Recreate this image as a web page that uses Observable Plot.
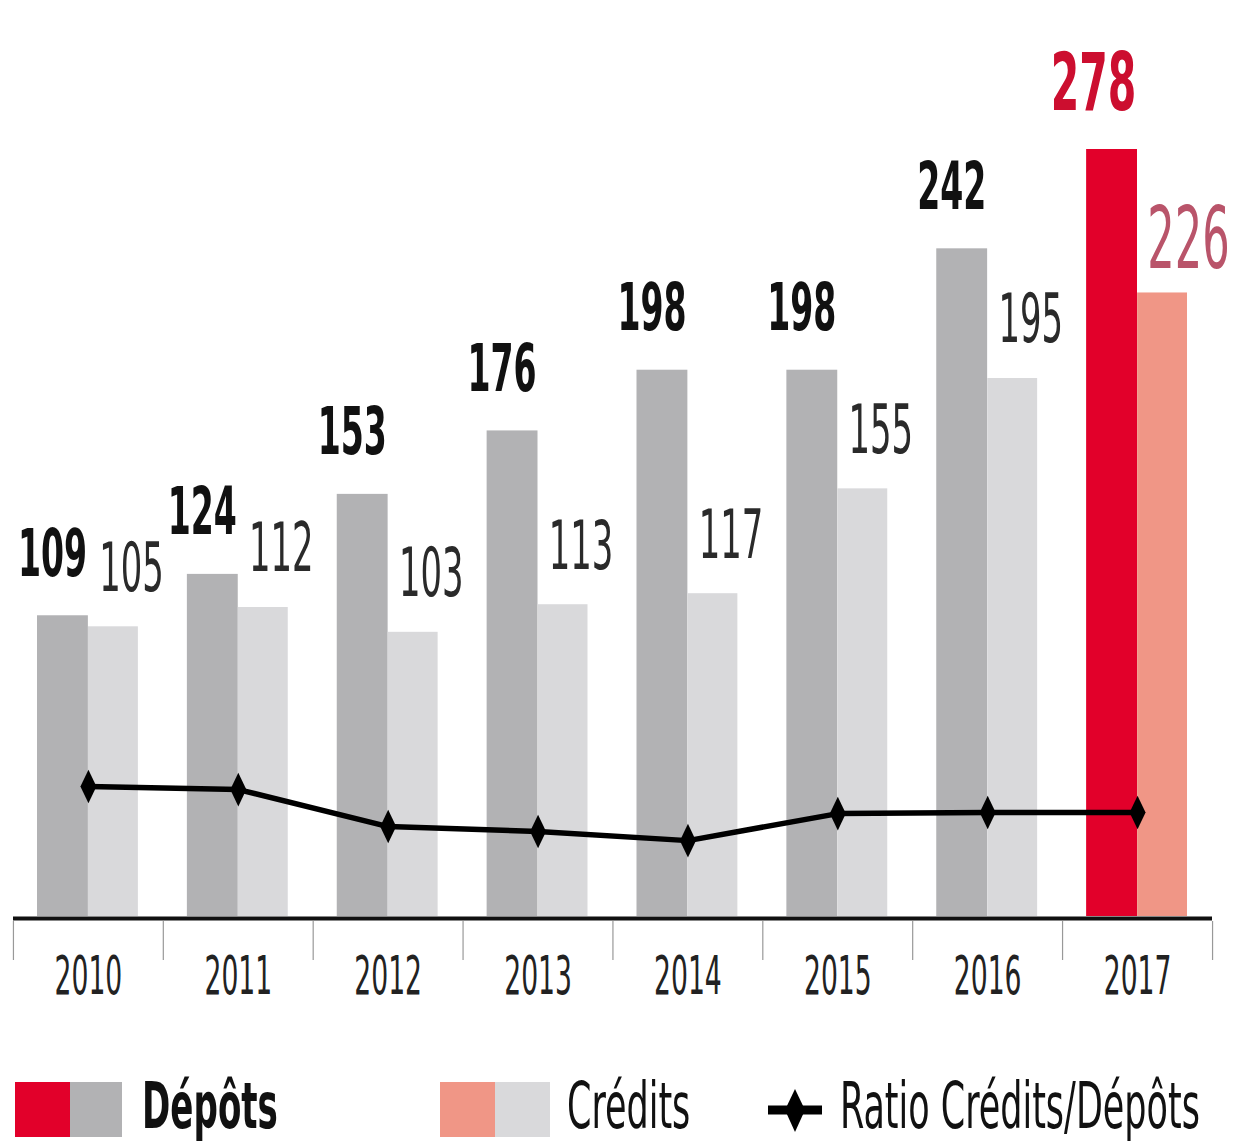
<!DOCTYPE html>
<html>
<head>
<meta charset="utf-8">
<script src="https://cdn.jsdelivr.net/npm/d3@7"></script>
<script src="https://cdn.jsdelivr.net/npm/@observablehq/plot@0.6"></script>
<style>
  body { margin: 0; background: #fff; }
  #wrap { position: relative; width: 1239px; height: 1144px; overflow: hidden; background: #fff; }
  #chart { position: absolute; left: 0; top: 0; }
  #legend { position: absolute; left: 0; top: 1060px; }
</style>
</head>
<body>
<div id="wrap">
  <div id="chart"></div>
  <svg id="legend" width="1239" height="84"></svg>
</div>
<script>
// ---- data ----
const years = ["2010", "2011", "2012", "2013", "2014", "2015", "2016", "2017"];
const depots = [109, 124, 153, 176, 198, 198, 242, 278];
const credits = [105, 112, 103, 113, 117, 155, 195, 226];
// level of the "Ratio Crédits/Dépôts" line in the bars' units
const ratioLevel = [47.1, 46.0, 32.6, 30.8, 27.5, 37.3, 37.7, 37.7];
const legendLabels = ["Dépôts", "Crédits", "Ratio Crédits/Dépôts"];

const rows = years.map((year, i) => ({year, depots: depots[i], credits: credits[i], ratio: ratioLevel[i]}));
const last = years[years.length - 1];
const past = rows.filter(d => d.year !== last);
const current = rows.filter(d => d.year === last);

const FONT = "'Liberation Sans Narrow','Arial Narrow','DejaVu Sans Condensed',sans-serif";
const SX = 0.8, SY = 1.42;

// tall diamond marker
const tallDiamond = {
  draw(ctx, size) {
    const r = Math.sqrt(size / Math.PI);
    const h = r * 2.1;
    ctx.moveTo(0, -h); ctx.lineTo(r, 0); ctx.lineTo(0, h); ctx.lineTo(-r, 0); ctx.closePath();
  }
};

const chart = Plot.plot({
  width: 1239,
  height: 1010,
  marginLeft: 13,
  marginRight: 27,
  marginTop: 149,
  marginBottom: 94,
  x: {type: "band", domain: years, padding: 0, round: false, axis: null},
  y: {domain: [0, 278], axis: null},
  style: {fontFamily: FONT, background: "transparent"},
  marks: [
    Plot.barY(rows, {x: "year", y: "depots", fill: d => d.year === last ? "#e2002a" : "#b2b2b4", insetLeft: 24, insetRight: 75}),
    Plot.barY(rows, {x: "year", y: "credits", fill: d => d.year === last ? "#f09686" : "#d9d9db", insetLeft: 75, insetRight: 25}),
    Plot.ruleY([0], {stroke: "#111", strokeWidth: 4, dy: 2}),
    Plot.ruleX(years, {x: d => d, dx: -75, y1: 0, y2: 0, insetTop: 5, insetBottom: -44, stroke: "#999", strokeWidth: 1.2}),
    Plot.ruleX([last], {x: d => d, dx: 75, y1: 0, y2: 0, insetTop: 5, insetBottom: -44, stroke: "#999", strokeWidth: 1.2}),
    Plot.line(rows, {x: "year", y: "ratio", stroke: "#000", strokeWidth: 5.5}),
    Plot.dot(rows, {x: "year", y: "ratio", symbol: tallDiamond, r: 8, fill: "#000", stroke: "none"}),
    Plot.text(past, {x: "year", y: "depots", text: d => String(d.depots), dx: -36, dy: -40, lineAnchor: "bottom",
      fontSize: 46, fontWeight: "bold", fill: "#111"}),
    Plot.text(past, {x: "year", y: "credits", text: d => String(d.credits), dx: 43, dy: -36, lineAnchor: "bottom",
      fontSize: 47, fill: "#2a2a2a"}),
    Plot.text(current, {x: "year", y: "depots", text: d => String(d.depots), dx: -44, dy: -40, lineAnchor: "bottom",
      fontSize: 57, fontWeight: "bold", fill: "#cc0e2f"}),
    Plot.text(current, {x: "year", y: "credits", text: d => String(d.credits), dx: 51, dy: -25, lineAnchor: "bottom",
      fontSize: 60, fill: "#b9546a"}),
    Plot.text(years, {x: d => d, y: () => 0, text: d => d, dy: 77, lineAnchor: "bottom", fontSize: 37, fill: "#222"})
  ]
});

// narrow and stretch the texts around their anchors, like the reference's tall condensed type
chart.querySelectorAll("text").forEach(t => {
  const tr = t.getAttribute("transform");
  if (tr) t.setAttribute("transform", tr + ` scale(${SX},${SY})`);
  else {
    const x = t.getAttribute("x") || 0, y = t.getAttribute("y") || 0;
    if (!String(y).includes("em")) {
      t.setAttribute("transform", `translate(${x},${y}) scale(${SX},${SY})`);
      t.removeAttribute("x"); t.removeAttribute("y");
    }
  }
});
document.getElementById("chart").append(chart);

// ---- legend ----
const lg = d3.select("#legend");
const sw = (x, w, c) => lg.append("rect").attr("x", x).attr("y", 22).attr("width", w).attr("height", 55).attr("fill", c);
sw(15, 56, "#e2002a"); sw(70, 52, "#b2b2b4");
sw(440, 56, "#f09686"); sw(495, 55, "#d9d9db");
lg.append("line").attr("x1", 768).attr("x2", 822).attr("y1", 50).attr("y2", 50).attr("stroke", "#000").attr("stroke-width", 9);
lg.append("path").attr("d", "M795,29L805,50L795,72L785,50Z").attr("fill", "#000");
const lt = (x, s, bold) => lg.append("text").attr("transform", `translate(${x},68) scale(${bold ? 0.79 : 0.81},1.35)`)
  .attr("font-family", FONT).attr("font-size", 48).attr("font-weight", bold ? "bold" : "normal")
  .attr("fill", "#111").text(s);
lt(142, legendLabels[0], true);
lt(567, legendLabels[1], false);
lt(840, legendLabels[2], false);
</script>
</body>
</html>
